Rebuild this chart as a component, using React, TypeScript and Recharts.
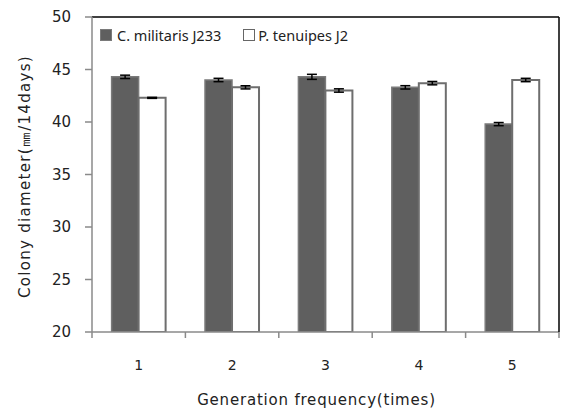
import React from 'react';
import { BarChart, Bar, XAxis, YAxis, ErrorBar, Legend, Label } from 'recharts';

const categories = ['1', '2', '3', '4', '5'];
const militaris = [44.3, 44.0, 44.3, 43.3, 39.8];
const militarisErr = [0.16, 0.16, 0.24, 0.16, 0.15];
const tenuipes = [42.3, 43.3, 43.0, 43.7, 44.0];
const tenuipesErr = [0.05, 0.15, 0.16, 0.16, 0.16];
const yTicks = [20, 25, 30, 35, 40, 45, 50];

const seriesNames = ['C. militaris J233', 'P. tenuipes J2'];

const data = categories.map((c, i) => ({
  name: c,
  a: militaris[i],
  aErr: militarisErr[i],
  b: tenuipes[i],
  bErr: tenuipesErr[i],
}));

const AXIS_GRAY = '#8a8a8a';
const TICK_FONT = '"DejaVu Sans", Verdana, sans-serif';

const CategoryTick = (props: any) => {
  const { x, y, payload, index, visibleTicksCount } = props;
  const half = payload && typeof payload.offset === 'number' ? payload.offset : 0;
  const last = index === (visibleTicksCount ?? categories.length) - 1;
  return (
    <g>
      <line x1={x - half} y1={y} x2={x - half} y2={y + 6} stroke={AXIS_GRAY} strokeWidth={1.5} />
      {last && <line x1={x + half} y1={y} x2={x + half} y2={y + 6} stroke={AXIS_GRAY} strokeWidth={1.5} />}
      <text x={x} y={y + 33} textAnchor="middle" dominantBaseline="central" fontFamily={TICK_FONT} fontSize={14} fill="#222">
        {payload.value}
      </text>
    </g>
  );
};

const LegendContent = () => (
  <div style={{ display: 'flex', alignItems: 'center', fontFamily: '"Noto Sans", "Liberation Sans", sans-serif', fontSize: 14.5, color: '#222', whiteSpace: 'nowrap' }}>
    <span style={{ display: 'inline-block', width: 10, height: 10, background: '#5f5f5f', border: '1px solid #7a7a7a', marginRight: 5 }} />
    <span style={{ marginRight: 22 }}>{seriesNames[0]}</span>
    <span style={{ display: 'inline-block', width: 10, height: 10, background: '#fff', border: '1px solid #666', marginRight: 3 }} />
    <span>{seriesNames[1]}</span>
  </div>
);

const YTitle = (props: any) => {
  const { viewBox } = props;
  const cx = viewBox.x + 25;
  const cy = viewBox.y + viewBox.height / 2 + 2;
  return (
    <text x={cx} y={cy} transform={`rotate(-90, ${cx}, ${cy})`} textAnchor="middle" dominantBaseline="central"
      fontFamily={TICK_FONT} fontSize={15} letterSpacing={1.3} fill="#222">
      Colony diameter(㎜/14days)
    </text>
  );
};

export default function App() {
  return (
    <div style={{ position: 'absolute', left: 0, top: 0, width: 561, height: 410, background: '#fff' }}>
      <BarChart width={561} height={410} data={data} margin={{ top: 16, right: 0, bottom: 0, left: 0 }}
        barCategoryGap="21%" barGap={0}>
        <XAxis dataKey="name" height={78} tickSize={0} tickMargin={0} tickLine={false} interval={0}
          axisLine={{ stroke: AXIS_GRAY, strokeWidth: 1.5 }} tick={<CategoryTick />}>
          <Label value="Generation frequency(times)" position="insideBottom" offset={5} dx={-9}
            style={{ fontFamily: TICK_FONT, fontSize: 15, letterSpacing: 0.8, fill: '#222' }} />
        </XAxis>
        <XAxis xAxisId="top" dataKey="name" orientation="top" height={1} tick={false} tickLine={false}
          axisLine={{ stroke: '#000', strokeWidth: 1.5 }} />
        <YAxis domain={[20, 50]} ticks={yTicks} interval={0} width={92} tickSize={7} tickMargin={14}
          axisLine={{ stroke: AXIS_GRAY, strokeWidth: 1.5 }} tickLine={{ stroke: AXIS_GRAY, strokeWidth: 1.5 }}
          tick={{ fontFamily: TICK_FONT, fontSize: 15, fill: '#222' }} allowDataOverflow>
          <Label content={<YTitle />} />
        </YAxis>
        <YAxis yAxisId="r" orientation="right" width={2} tick={false} tickLine={false}
          axisLine={{ stroke: '#000', strokeWidth: 1.5 }} />
        <Legend content={<LegendContent />} layout="vertical" verticalAlign="middle" align="center"
          wrapperStyle={{ position: 'absolute', top: 25, left: 100, width: 'auto', height: 'auto' }} />
        <Bar dataKey="a" name={seriesNames[0]} fill="#5f5f5f" stroke="#7a7a7a" strokeWidth={1.5} isAnimationActive={false}>
          <ErrorBar dataKey="aErr" width={5} stroke="#000" strokeWidth={1.5} direction="y" />
        </Bar>
        <Bar dataKey="b" name={seriesNames[1]} fill="#ffffff" stroke="#6e6e6e" strokeWidth={2} isAnimationActive={false}>
          <ErrorBar dataKey="bErr" width={5} stroke="#000" strokeWidth={1.5} direction="y" />
        </Bar>
      </BarChart>
    </div>
  );
}
